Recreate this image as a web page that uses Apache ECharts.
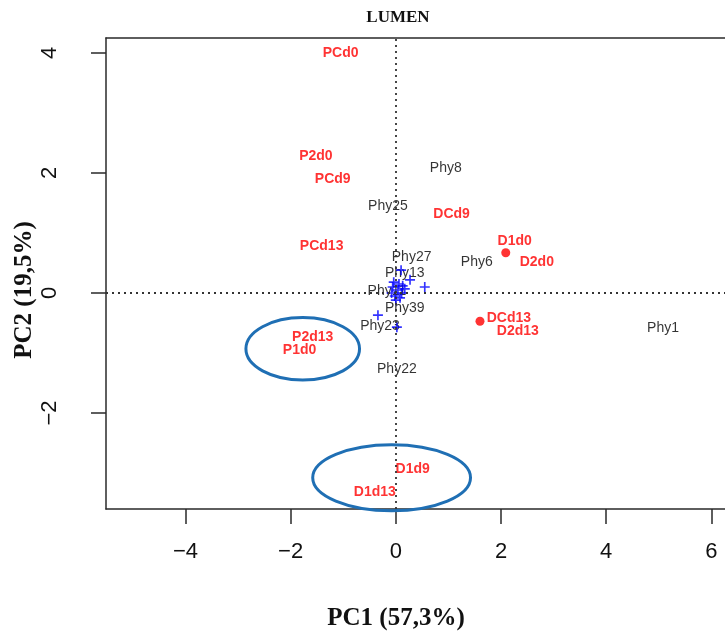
<!DOCTYPE html>
<html><head><meta charset="utf-8">
<script src="https://cdn.jsdelivr.net/npm/echarts@6/dist/echarts.min.js"></script>
<style>html,body{margin:0;padding:0;background:#fff}#c{width:725px;height:639px}</style>
</head><body><div id="c"></div>
<script>
// ---- data ----
const xTicks = [-4, -2, 0, 2, 4, 6];
const yTicks = [-2, 0, 2, 4];
const sampleNames = ['PCd0','P2d0','PCd9','PCd13','DCd9','D1d0','D2d0','DCd13','D2d13','P2d13','P1d0','D1d9','D1d13'];
const sampleX = [-1.05,-1.52,-1.20,-1.41,1.06,2.26,2.68,2.15,2.32,-1.58,-1.83,0.32,-0.40];
const sampleY = [4.00,2.28,1.90,0.78,1.32,0.87,0.52,-0.42,-0.63,-0.73,-0.95,-2.93,-3.32];
const varNames = ['Phy8','Phy25','Phy27','Phy13','Phy6','Phy11','Phy39','Phy23','Phy22','Phy1'];
const varX = [0.95,-0.15,0.30,0.17,1.54,-0.17,0.17,-0.30,0.02,5.08];
const varY = [2.08,1.45,0.60,0.33,0.52,0.03,-0.25,-0.55,-1.27,-0.58];
const crossX = [0.10,0.55,-0.34,0.02,0.27,-0.06,0.04,0.11,-0.02,0.17,0.06,-0.08,0.08,0.00,0.13,-0.04];
const crossY = [0.38,0.10,-0.37,-0.57,0.22,0.10,0.05,0.00,-0.05,0.07,0.15,0.00,-0.08,-0.12,0.12,0.18];
const dotX = [2.09, 1.60];
const dotY = [0.67, -0.47];
const ellipseCX = [-1.77, -0.08];
const ellipseCY = [-0.93, -3.08];
const ellipseRX = [1.08, 1.50];
const ellipseRY = [0.52, 0.55];

const zip = (a, b) => a.map((v, i) => [v, b[i]]);
const fmt = v => (v < 0 ? '\u2212' + Math.abs(v) : String(v));

const chart = echarts.init(document.getElementById('c'));
const gridLeft = 106, gridTop = 38, gridRight = 0, gridH = 471;
const xMin = -5.51, xMax = -5.51 + (725 - gridLeft) / 52.6;
const yMin = -3.6, yMax = 4.25;
const axisCol = '#2a2a2a';

const option = {
  animation: false,
  backgroundColor: '#fff',
  grid: { left: gridLeft, top: gridTop, right: gridRight, height: gridH, show: false },
  xAxis: [{
    type: 'value', min: xMin, max: xMax,
    splitLine: { show: false },
    axisLine: { show: true, onZero: false, lineStyle: { color: axisCol, width: 1.5 } },
    axisTick: { show: true, length: 15, customValues: xTicks, lineStyle: { color: axisCol, width: 1.5 } },
    axisLabel: { customValues: xTicks, formatter: fmt, fontFamily: 'Liberation Sans', fontSize: 22, color: '#111', margin: 32 }
  }, {
    type: 'value', position: 'top', min: xMin, max: xMax,
    splitLine: { show: false },
    axisLine: { show: true, onZero: false, lineStyle: { color: axisCol, width: 1.5 } },
    axisTick: { show: false }, axisLabel: { show: false }
  }],
  yAxis: {
    type: 'value', min: yMin, max: yMax,
    splitLine: { show: false },
    axisLine: { show: true, onZero: false, lineStyle: { color: axisCol, width: 1.5 } },
    axisTick: { show: true, length: 15, customValues: yTicks, lineStyle: { color: axisCol, width: 1.5 } },
    axisLabel: { customValues: yTicks, formatter: fmt, rotate: 90, fontFamily: 'Liberation Sans', fontSize: 22, color: '#111', margin: 45 }
  },
  series: [
    {
      type: 'scatter', name: 'variables', symbolSize: 1, itemStyle: { color: 'rgba(0,0,0,0)' },
      data: varNames.map((n, i) => ({ name: n, value: [varX[i], varY[i]] })),
      label: { show: true, position: 'inside', formatter: p => p.name, color: '#000', fontFamily: 'Liberation Sans', fontSize: 14 },
      markLine: {
        silent: true, symbol: 'none', label: { show: false },
        lineStyle: { type: [2, 4], color: '#333', width: 1.8 },
        data: [{ xAxis: 0 }, { yAxis: 0 }]
      },
      z: 2
    },
    {
      type: 'scatter', name: 'crosses', symbol: 'path://M4,0h1.6v4h4v1.6h-4v4h-1.6v-4h-4v-1.6h4z', symbolSize: 10,
      itemStyle: { color: '#0000ff' }, data: zip(crossX, crossY), z: 3
    },
    {
      type: 'scatter', name: 'samples', symbolSize: 1, itemStyle: { color: 'rgba(0,0,0,0)' },
      data: sampleNames.map((n, i) => ({ name: n, value: [sampleX[i], sampleY[i]] })),
      label: { show: true, position: 'inside', formatter: p => p.name, color: '#ff0000', fontFamily: 'Liberation Sans', fontWeight: 'bold', fontSize: 14 },
      z: 4
    },
    {
      type: 'scatter', name: 'dots', symbol: 'circle', symbolSize: 9,
      itemStyle: { color: '#ff0000' }, data: zip(dotX, dotY), z: 4
    }
  ]
};
chart.setOption(option);

const graphics = [];
graphics.push({ type: 'text', x: 398, y: 18, style: { text: 'LUMEN', font: 'bold 17px "Liberation Serif"', fill: '#111', align: 'center', verticalAlign: 'middle' } });
graphics.push({ type: 'text', x: 396, y: 619, style: { text: 'PC1 (57,3%)', font: 'bold 25px "Liberation Serif"', fill: '#111', align: 'center', verticalAlign: 'middle' } });
graphics.push({ type: 'text', x: 25, y: 290, rotation: Math.PI / 2, style: { text: 'PC2 (19,5%)', font: 'bold 25px "Liberation Serif"', fill: '#111', align: 'center', verticalAlign: 'middle' } });
ellipseCX.forEach((cx, i) => {
  const c = chart.convertToPixel({ xAxisIndex: 0, yAxisIndex: 0 }, [cx, ellipseCY[i]]);
  const e = chart.convertToPixel({ xAxisIndex: 0, yAxisIndex: 0 }, [cx + ellipseRX[i], ellipseCY[i] + ellipseRY[i]]);
  graphics.push({ type: 'ellipse', z: 10, shape: { cx: c[0], cy: c[1], rx: Math.abs(e[0] - c[0]), ry: Math.abs(c[1] - e[1]) },
    style: { fill: 'none', stroke: '#1f6fb4', lineWidth: 3 } });
});
chart.setOption({ graphic: graphics });
</script></body></html>
